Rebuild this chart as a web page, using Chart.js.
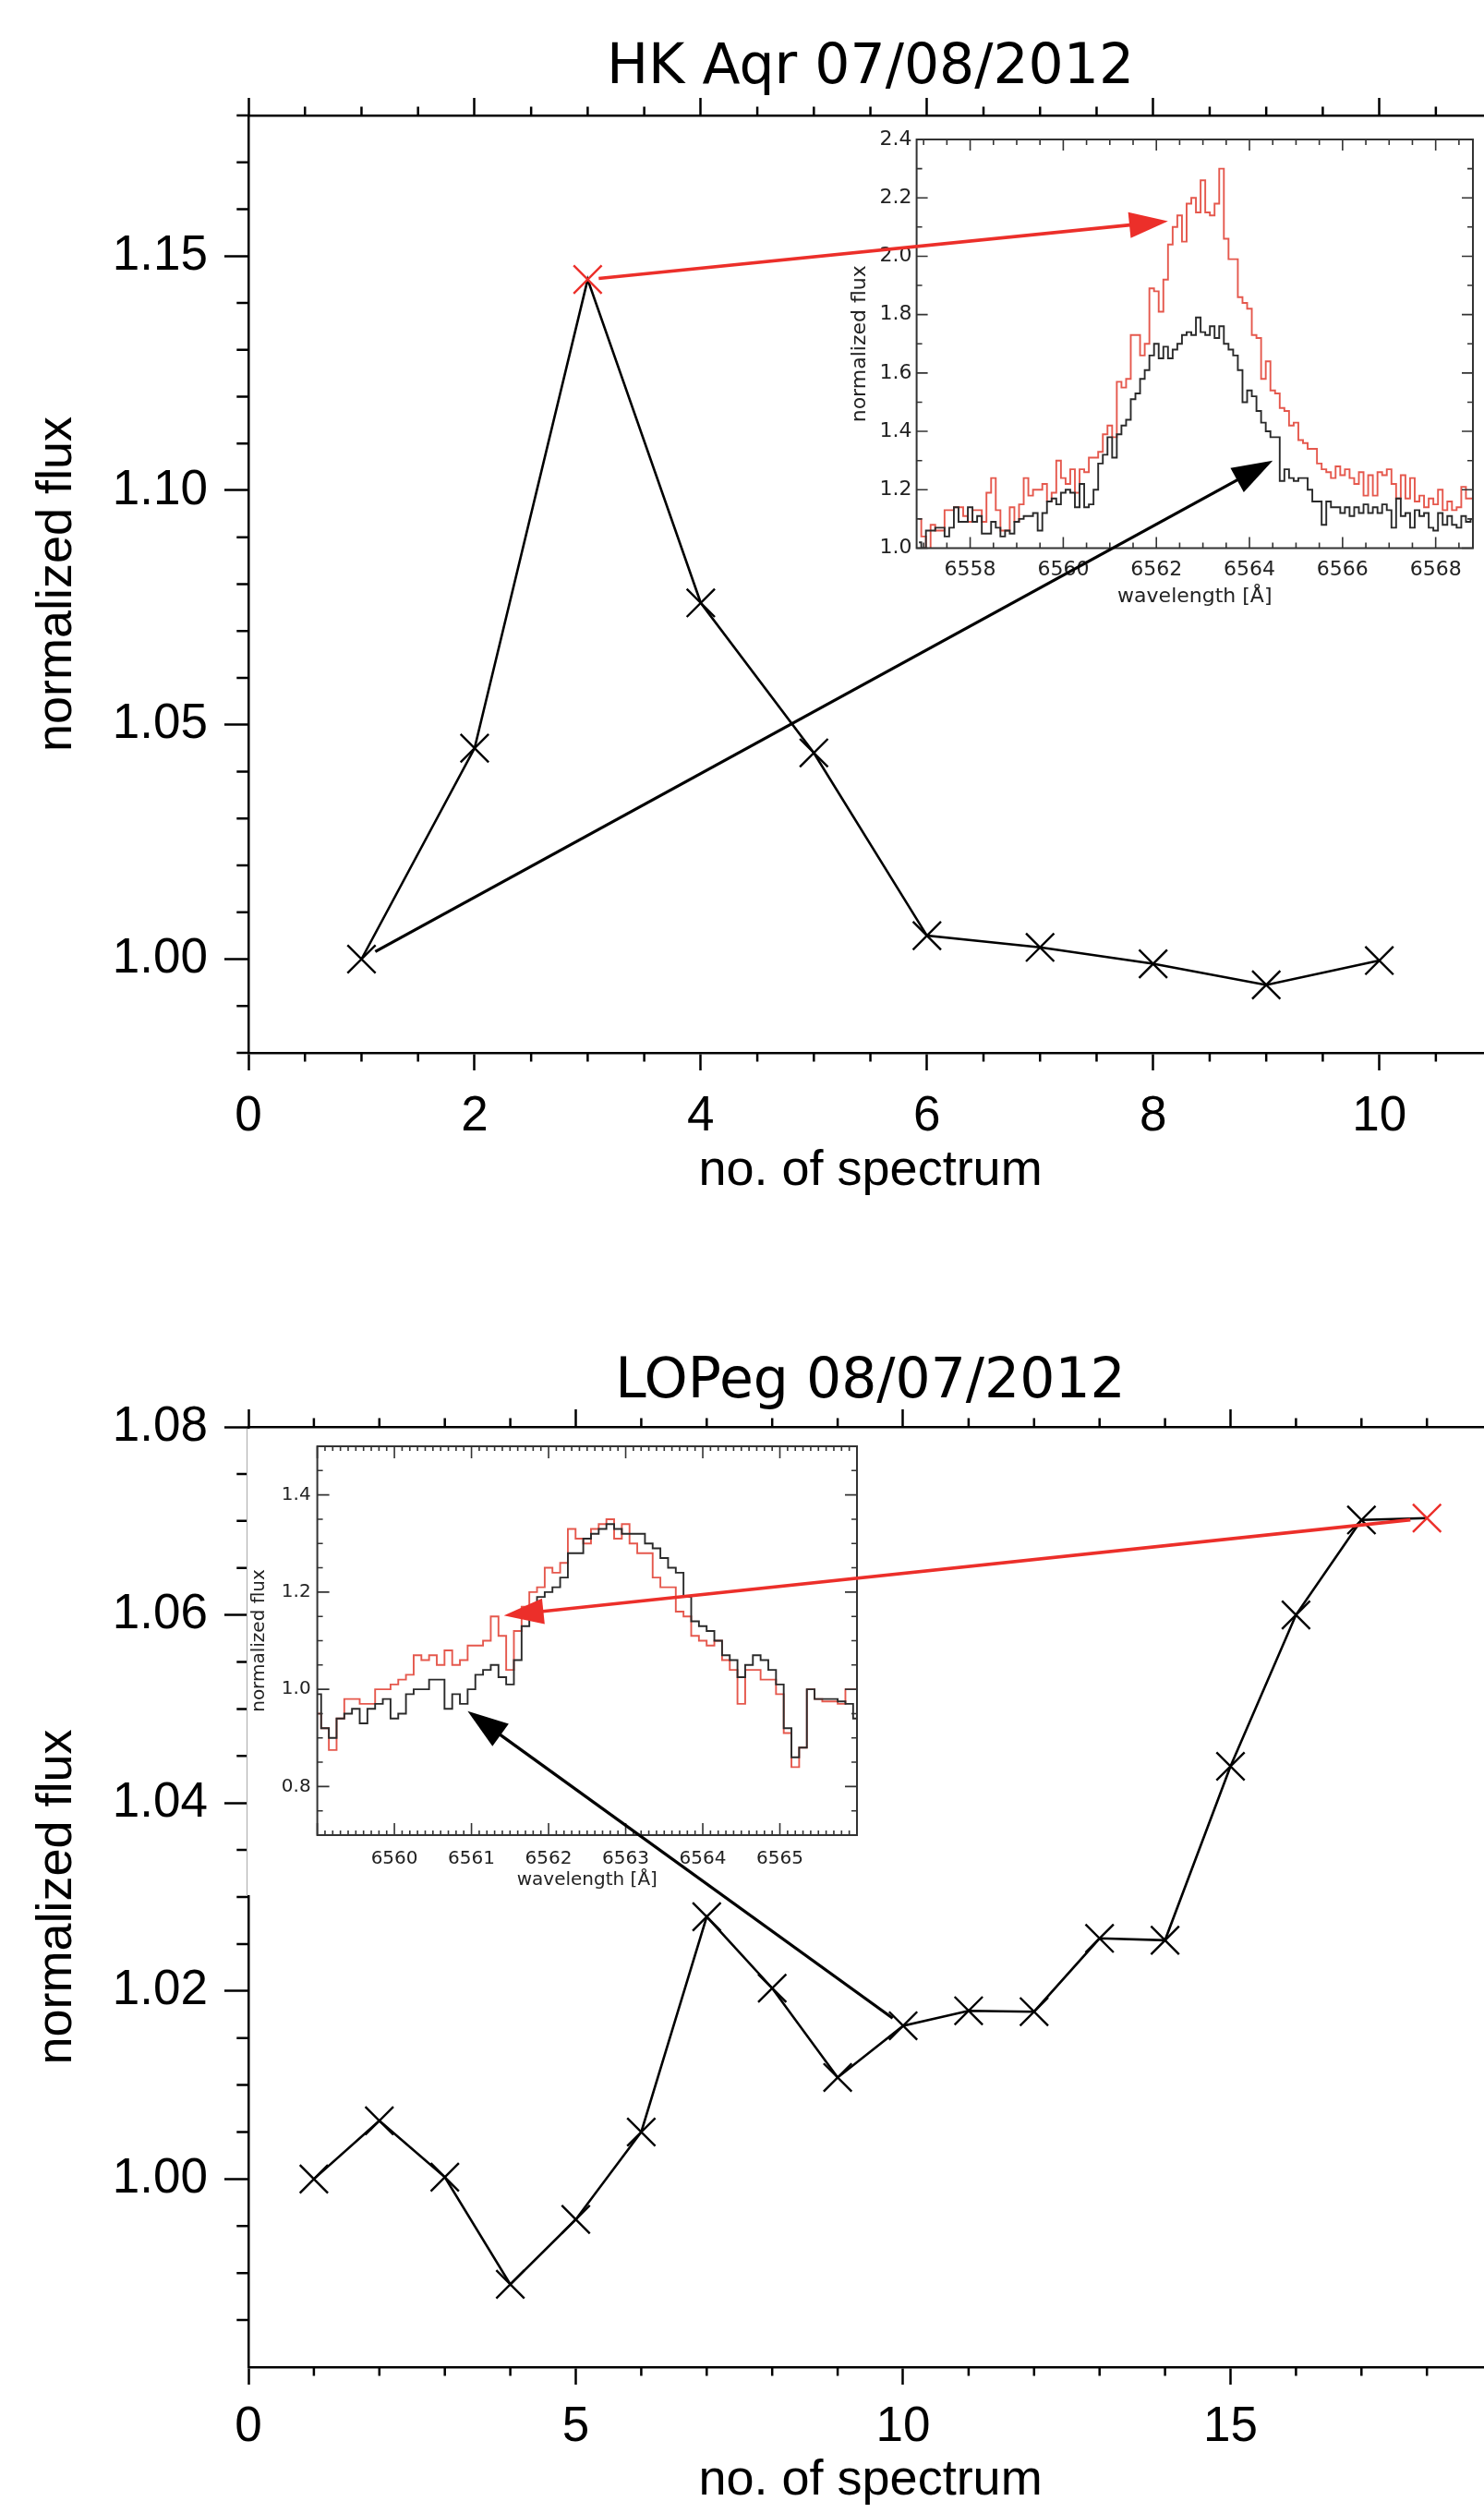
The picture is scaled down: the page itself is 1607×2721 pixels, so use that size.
<!DOCTYPE html>
<html>
<head>
<meta charset="utf-8">
<script src="https://cdn.jsdelivr.net/npm/chart.js@4.4.1/dist/chart.umd.min.js"></script>
<style>
html,body{margin:0;padding:0;background:#fff;width:1607px;height:2721px;overflow:hidden;}
.box{position:absolute;}
canvas{display:block;}
.inset canvas{background:#fff;}
</style>
</head>
<body>
<div class="box" style="left:0;top:0;"><canvas id="mainTop" width="1640" height="1301"></canvas></div>
<div class="box inset" style="left:900px;top:130px;"><canvas id="insetTop" width="707" height="540"></canvas></div>
<div class="box" style="left:0;top:1420px;"><canvas id="mainBot" width="1640" height="1299"></canvas></div>
<div class="box inset" style="left:267px;top:1547px;border-left:1px solid #aaa;"><canvas id="insetBot" width="682" height="505"></canvas></div>
<canvas id="arrows" width="1607" height="2721" style="position:absolute;left:0;top:0;"></canvas>
<script>
// ---------------- DATA ----------------
// HK Aqr 07/08/2012 : normalized H-alpha flux per spectrum
const hkSpecNo = [1, 2, 3, 4, 5, 6, 7, 8, 9, 10];
const hkFlux   = [1.000, 1.045, 1.145, 1.076, 1.044, 1.005, 1.0025, 0.999, 0.9945, 0.9997];
const hkHighlight = 3;   // spectrum shown in red
const hkCompare = 1;     // spectrum shown in black
const hkXTicks = [0, 2, 4, 6, 8, 10];
const hkYTicks = [1.00, 1.05, 1.10, 1.15];

// LO Peg 08/07/2012
const loSpecNo = [1, 2, 3, 4, 5, 6, 7, 8, 9, 10, 11, 12, 13, 14, 15, 16, 17, 18];
const loFlux   = [1.000, 1.0062, 1.0002, 0.9888, 0.9957, 1.005, 1.0279, 1.0203, 1.0108, 1.0163,
                  1.0179, 1.0178, 1.0256, 1.0254, 1.0439, 1.0600, 1.0701, 1.0703];
const loHighlight = 18;
const loCompare = 10;
const loXTicks = [0, 5, 10, 15];
const loYTicks = [1.00, 1.02, 1.04, 1.06, 1.08];

// HK Aqr inset spectra (wavelength in Angstrom)
const hkWave = [
6556.9,6557.0,6557.1,6557.2,6557.3,6557.4,6557.5,6557.6,6557.7,6557.8,
6557.9,6558.0,6558.1,6558.2,6558.3,6558.4,6558.5,6558.6,6558.7,6558.8,
6558.9,6559.0,6559.1,6559.2,6559.3,6559.4,6559.5,6559.6,6559.7,6559.8,
6559.9,6560.0,6560.1,6560.2,6560.3,6560.4,6560.5,6560.6,6560.7,6560.8,
6560.9,6561.0,6561.1,6561.2,6561.3,6561.4,6561.5,6561.6,6561.7,6561.8,
6561.9,6562.0,6562.1,6562.2,6562.3,6562.4,6562.5,6562.6,6562.7,6562.8,
6562.9,6563.0,6563.1,6563.2,6563.3,6563.4,6563.5,6563.6,6563.7,6563.8,
6563.9,6564.0,6564.1,6564.2,6564.3,6564.4,6564.5,6564.6,6564.7,6564.8,
6564.9,6565.0,6565.1,6565.2,6565.3,6565.4,6565.5,6565.6,6565.7,6565.8,
6565.9,6566.0,6566.1,6566.2,6566.3,6566.4,6566.5,6566.6,6566.7,6566.8,
6566.9,6567.0,6567.1,6567.2,6567.3,6567.4,6567.5,6567.6,6567.7,6567.8,
6567.9,6568.0,6568.1,6568.2,6568.3,6568.4,6568.5,6568.6,6568.7,6568.8];
const hkRedSpec = [
1.10,1.04,0.98,1.08,1.06,1.06,1.13,1.13,1.14,1.14,
1.11,1.09,1.13,1.13,1.09,1.19,1.24,1.13,1.06,1.06,
1.14,1.09,1.15,1.24,1.18,1.20,1.20,1.22,1.16,1.19,
1.30,1.24,1.22,1.27,1.19,1.27,1.26,1.31,1.31,1.33,
1.39,1.42,1.38,1.57,1.55,1.58,1.73,1.73,1.66,1.70,
1.89,1.88,1.81,1.92,2.04,2.10,2.14,2.05,2.18,2.20,
2.15,2.26,2.15,2.14,2.18,2.30,2.06,1.99,1.99,1.86,
1.84,1.82,1.73,1.72,1.58,1.64,1.54,1.53,1.48,1.47,
1.42,1.43,1.37,1.36,1.34,1.34,1.29,1.27,1.26,1.24,
1.28,1.25,1.27,1.24,1.22,1.26,1.18,1.25,1.18,1.26,
1.25,1.27,1.22,1.17,1.25,1.17,1.24,1.16,1.18,1.14,
1.17,1.15,1.20,1.13,1.16,1.13,1.14,1.21,1.17,1.17];
const hkBlackSpec = [
1.02,1.00,1.06,1.06,1.07,1.07,1.04,1.07,1.14,1.09,
1.09,1.14,1.09,1.11,1.05,1.05,1.09,1.07,1.04,1.06,
1.05,1.09,1.10,1.11,1.11,1.12,1.06,1.12,1.16,1.17,
1.15,1.19,1.20,1.19,1.14,1.22,1.14,1.15,1.20,1.29,
1.32,1.38,1.31,1.39,1.42,1.44,1.51,1.53,1.58,1.61,
1.66,1.70,1.65,1.69,1.65,1.68,1.70,1.73,1.74,1.73,
1.79,1.74,1.73,1.76,1.72,1.76,1.70,1.68,1.66,1.61,
1.50,1.54,1.52,1.47,1.43,1.40,1.38,1.38,1.23,1.27,
1.24,1.23,1.24,1.24,1.20,1.16,1.16,1.08,1.16,1.14,
1.14,1.12,1.14,1.11,1.14,1.12,1.15,1.12,1.14,1.12,
1.15,1.13,1.07,1.17,1.11,1.12,1.07,1.13,1.11,1.12,
1.07,1.06,1.12,1.08,1.11,1.08,1.07,1.11,1.09,1.10];
const hkInsetXTicks = [6558, 6560, 6562, 6564, 6566, 6568];
const hkInsetYTicks = [1.0, 1.2, 1.4, 1.6, 1.8, 2.0, 2.2, 2.4];

// LO Peg inset spectra
const loWave = [
6559.0,6559.1,6559.2,6559.3,6559.4,6559.5,6559.6,6559.7,6559.8,6559.9,
6560.0,6560.1,6560.2,6560.3,6560.4,6560.5,6560.6,6560.7,6560.8,6560.9,
6561.0,6561.1,6561.2,6561.3,6561.4,6561.5,6561.6,6561.7,6561.8,6561.9,
6562.0,6562.1,6562.2,6562.3,6562.4,6562.5,6562.6,6562.7,6562.8,6562.9,
6563.0,6563.1,6563.2,6563.3,6563.4,6563.5,6563.6,6563.7,6563.8,6563.9,
6564.0,6564.1,6564.2,6564.3,6564.4,6564.5,6564.6,6564.7,6564.8,6564.9,
6565.0,6565.1,6565.2,6565.3,6565.4,6565.5,6565.6,6565.7,6565.8,6565.9,
6566.0];
const loRedSpec = [
0.95,0.92,0.875,0.94,0.98,0.98,0.97,0.97,1.00,1.00,
1.01,1.02,1.03,1.07,1.06,1.07,1.05,1.08,1.05,1.06,
1.09,1.09,1.10,1.15,1.11,1.04,1.12,1.17,1.20,1.21,
1.25,1.24,1.26,1.33,1.31,1.30,1.33,1.34,1.35,1.31,
1.34,1.30,1.28,1.28,1.23,1.21,1.21,1.16,1.15,1.11,
1.10,1.09,1.10,1.06,1.04,0.97,1.04,1.04,1.02,1.02,
0.99,0.91,0.84,0.88,1.00,0.98,0.975,0.975,0.97,1.00,
1.00];
const loBlackSpec = [
0.99,0.92,0.90,0.94,0.95,0.96,0.93,0.96,0.97,0.98,
0.94,0.95,0.99,1.00,1.00,1.02,1.02,0.96,0.99,0.97,
1.00,1.03,1.04,1.05,1.025,1.01,1.06,1.13,1.15,1.19,
1.20,1.21,1.23,1.28,1.28,1.31,1.32,1.33,1.34,1.33,
1.32,1.32,1.32,1.30,1.29,1.27,1.25,1.24,1.19,1.14,
1.13,1.12,1.10,1.07,1.06,1.025,1.05,1.07,1.06,1.04,
1.01,0.92,0.86,0.88,1.00,0.98,0.98,0.98,0.975,0.97,
0.94];
const loInsetXTicks = [6560, 6561, 6562, 6563, 6564, 6565];
const loInsetYTicks = [0.8, 1.0, 1.2, 1.4];

// arrow targets inside the insets: [wavelength, flux]
const hkRedTarget   = [6562.25, 2.12];
const hkBlackTarget = [6564.5, 1.30];
const loRedTarget   = [6561.42, 1.152];
const loBlackTarget = [6560.95, 0.955];

// ---------------- STYLE ----------------
const RED = '#ec2f2a';
const SPEC_RED = '#e5584d';
const SPEC_BLACK = '#2a2a2a';
const TICKFONT = {family: "'Liberation Sans', Arial, sans-serif", size: 53, weight: 'normal'};
const AXFONT = {family: "'Liberation Sans', Arial, sans-serif", size: 54, weight: 'normal'};
const TITLEFONT = {family: "'DejaVu Sans', sans-serif", size: 60, weight: 'normal'};

function isMult(v, step) { const r = v / step; return Math.abs(r - Math.round(r)) < 1e-6; }

const mainTicksPlugin = {
  id: 'mainTicks',
  afterDraw(chart, args, o) {
    const {ctx, chartArea: a} = chart;
    const x = chart.scales.x, y = chart.scales.y;
    ctx.save();
    ctx.strokeStyle = '#000';
    ctx.lineWidth = 2.5;
    ctx.beginPath();
    const nx = Math.round((x.max - x.min) / o.xMinor);
    for (let i = 0; i <= nx; i++) {
      const v = x.min + i * o.xMinor;
      if (isMult(v, o.xMajor)) continue;
      const px = x.getPixelForValue(v);
      ctx.moveTo(px, a.bottom); ctx.lineTo(px, a.bottom + o.xMinorLen);
      ctx.moveTo(px, a.top); ctx.lineTo(px, a.top - o.xMinorLen);
    }
    const ny = Math.round((y.max - y.min) / o.yMinor);
    for (let i = 0; i <= ny; i++) {
      const v = y.min + i * o.yMinor;
      if (isMult(v, o.yMajor)) continue;
      const py = y.getPixelForValue(v);
      ctx.moveTo(a.left, py); ctx.lineTo(a.left - o.yMinorLen, py);
      ctx.moveTo(a.right, py); ctx.lineTo(a.right + o.yMinorLen, py);
    }
    ctx.moveTo(a.right, a.top); ctx.lineTo(a.right, a.bottom);
    ctx.stroke();
    ctx.restore();
  }
};

const insetFramePlugin = {
  id: 'insetFrame',
  afterDatasetsDraw(chart, args, o) {
    const {ctx, chartArea: a} = chart;
    const x = chart.scales.x, y = chart.scales.y;
    ctx.save();
    ctx.strokeStyle = o.color;
    ctx.lineWidth = o.tickWidth;
    ctx.beginPath();
    const x0 = Math.ceil(x.min / o.xMinor - 1e-6) * o.xMinor;
    const nx = Math.floor((x.max - x0) / o.xMinor + 1e-6);
    for (let i = 0; i <= nx; i++) {
      const v = x0 + i * o.xMinor;
      const len = isMult(v, o.xMajor) ? o.majorLen : o.xMinorLen;
      const px = x.getPixelForValue(v);
      ctx.moveTo(px, a.bottom); ctx.lineTo(px, a.bottom - len);
      ctx.moveTo(px, a.top); ctx.lineTo(px, a.top + len);
    }
    const y0 = Math.ceil(y.min / o.yMinor - 1e-6) * o.yMinor;
    const ny = Math.floor((y.max - y0) / o.yMinor + 1e-6);
    for (let i = 0; i <= ny; i++) {
      const v = y0 + i * o.yMinor;
      const len = isMult(v, o.yMajor) ? o.majorLen : o.yMinorLen;
      const py = y.getPixelForValue(v);
      ctx.moveTo(a.left, py); ctx.lineTo(a.left + len, py);
      ctx.moveTo(a.right, py); ctx.lineTo(a.right - len, py);
    }
    ctx.stroke();
    ctx.lineWidth = o.frameWidth;
    ctx.strokeRect(a.left, a.top, a.right - a.left, a.bottom - a.top);
    ctx.restore();
  }
};

function mainChart(id, c) {
  const setTicks = arr => s => { s.ticks = arr.map(v => ({value: v})); };
  return new Chart(document.getElementById(id), {
    type: 'line',
    data: {datasets: [{
      data: c.specNo.map((n, i) => ({x: n, y: c.flux[i]})),
      borderColor: '#000', borderWidth: 2.6, tension: 0, fill: false,
      pointStyle: 'crossRot', pointRadius: 21.5, pointBorderWidth: 2.4,
      pointBorderColor: ctx => (c.specNo[ctx.dataIndex] === c.highlight ? RED : '#000'),
      pointBackgroundColor: 'rgba(0,0,0,0)'
    }]},
    options: {
      responsive: false, animation: false, devicePixelRatio: 1, events: [],
      layout: {padding: {left: 0, right: c.padRight, top: 0, bottom: 0}},
      plugins: {
        legend: {display: false}, tooltip: {enabled: false},
        mainTicks: {xMinor: c.xMinor, xMajor: c.xMajor, yMinor: c.yMinor, yMajor: c.yMajor, xMinorLen: 9.5, yMinorLen: 12.7}
      },
      scales: {
        x: {type: 'linear', position: 'bottom', min: c.xMin, max: c.xMax,
            afterBuildTicks: setTicks(c.xTicks), afterFit: s => { s.height = c.xAxisH; },
            ticks: {color: '#000', font: TICKFONT, padding: c.xLabelPad, maxRotation: 0, autoSkip: false, callback: v => String(v)},
            grid: {display: true, drawOnChartArea: false, drawTicks: true, tickLength: 19, tickWidth: 2.5, tickColor: '#000'},
            border: {display: true, color: '#000', width: 2.5},
            title: {display: true, text: 'no. of spectrum', color: '#000', font: AXFONT, padding: {top: 0, bottom: 0}}},
        x2: {type: 'linear', position: 'top', min: c.xMin, max: c.xMax,
            afterBuildTicks: setTicks(c.xTicks), afterFit: s => { s.height = 125; },
            ticks: {display: false},
            grid: {display: true, drawOnChartArea: false, drawTicks: true, tickLength: 19, tickWidth: 2.5, tickColor: '#000'},
            border: {display: true, color: '#000', width: 2.5},
            title: {display: true, text: c.title, color: '#000', font: TITLEFONT, padding: {top: c.titlePad, bottom: 0}}},
        y: {type: 'linear', position: 'left', min: c.yMin, max: c.yMax,
            afterBuildTicks: setTicks(c.yTicks), afterFit: s => { s.width = 269; },
            ticks: {color: '#000', font: TICKFONT, padding: 18, callback: v => v.toFixed(2)},
            grid: {display: true, drawOnChartArea: false, drawTicks: true, tickLength: 26, tickWidth: 2.5, tickColor: '#000'},
            border: {display: true, color: '#000', width: 2.5},
            title: {display: true, text: 'normalized flux', color: '#000', font: AXFONT, padding: {top: 30, bottom: 0}}}
      }
    },
    plugins: [mainTicksPlugin]
  });
}

function insetChart(id, c) {
  const setTicks = arr => s => { s.ticks = arr.map(v => ({value: v})); };
  const tf = {family: "'DejaVu Sans', sans-serif", size: c.font, weight: 'normal'};
  return new Chart(document.getElementById(id), {
    type: 'line',
    data: {datasets: [
      {data: c.wave.map((w, i) => ({x: w, y: c.black[i]})), borderColor: SPEC_BLACK, borderWidth: 1.9,
       stepped: 'middle', pointRadius: 0, fill: false},
      {data: c.wave.map((w, i) => ({x: w, y: c.red[i]})), borderColor: SPEC_RED, borderWidth: 1.9,
       stepped: 'middle', pointRadius: 0, fill: false}
    ]},
    options: {
      responsive: false, animation: false, devicePixelRatio: 1, events: [],
      layout: {padding: {left: 0, right: c.padRight, top: c.padTop, bottom: 0}},
      plugins: {
        legend: {display: false}, tooltip: {enabled: false},
        insetFrame: {color: '#333', tickWidth: 1.6, frameWidth: 2, majorLen: c.majorLen,
                     xMinor: c.xMinor, xMajor: c.xMajor, yMinor: c.yMinor, yMajor: c.yMajor,
                     xMinorLen: c.xMinorLen, yMinorLen: c.yMinorLen}
      },
      scales: {
        x: {type: 'linear', min: c.xMin, max: c.xMax,
            afterBuildTicks: setTicks(c.xTicks), afterFit: s => { s.height = c.xAxisH; },
            ticks: {color: '#222', font: tf, padding: c.xLabelPad, maxRotation: 0, autoSkip: false, callback: v => String(v)},
            grid: {display: false, drawTicks: false}, border: {display: false},
            title: {display: true, text: 'wavelength [Å]', color: '#222', font: tf, padding: {top: 0, bottom: c.xTitlePad}}},
        y: {type: 'linear', min: c.yMin, max: c.yMax,
            afterBuildTicks: setTicks(c.yTicks), afterFit: s => { s.width = c.yAxisW; },
            ticks: {color: '#222', font: tf, padding: c.yLabelPad, callback: v => v.toFixed(1)},
            grid: {display: false, drawTicks: false}, border: {display: false},
            title: {display: true, text: 'normalized flux', color: '#222', font: tf, padding: {top: c.yTitlePad, bottom: 0}}}
      }
    },
    plugins: [insetFramePlugin]
  });
}

const chartTop = mainChart('mainTop', {
  specNo: hkSpecNo, flux: hkFlux, highlight: hkHighlight, title: 'HK Aqr 07/08/2012',
  xMin: 0, xMax: 11, yMin: 0.98, yMax: 1.18, xTicks: hkXTicks, yTicks: hkYTicks,
  xMinor: 0.5, xMajor: 2, yMinor: 0.01, yMajor: 0.05,
  padRight: 23.5, xAxisH: 161, xLabelPad: 19, titlePad: 38
});
const insetTop = insetChart('insetTop', {
  wave: hkWave, red: hkRedSpec, black: hkBlackSpec, font: 22,
  xMin: 6556.85, xMax: 6568.8, yMin: 1.0, yMax: 2.4, xTicks: hkInsetXTicks, yTicks: hkInsetYTicks,
  xMinor: 0.5, xMajor: 2, yMinor: 0.1, yMajor: 0.2, majorLen: 12, xMinorLen: 6, yMinorLen: 6,
  padRight: 12, padTop: 21, xAxisH: 76.5, yAxisW: 92.6, xLabelPad: 11, xTitlePad: 11, yLabelPad: 5, yTitlePad: 18
});
const chartBot = mainChart('mainBot', {
  specNo: loSpecNo, flux: loFlux, highlight: loHighlight, title: 'LOPeg 08/07/2012',
  xMin: 0, xMax: 19, yMin: 0.98, yMax: 1.08, xTicks: loXTicks, yTicks: loYTicks,
  xMinor: 1, xMajor: 5, yMinor: 0.005, yMajor: 0.02,
  padRight: 23.5, xAxisH: 156, xLabelPad: 15, titlePad: 41
});
const insetBot = insetChart('insetBot', {
  wave: loWave, red: loRedSpec, black: loBlackSpec, font: 20,
  xMin: 6559.0, xMax: 6566.0, yMin: 0.7, yMax: 1.5, xTicks: loInsetXTicks, yTicks: loInsetYTicks,
  xMinor: 0.1, xMajor: 1, yMinor: 0.05, yMajor: 0.2, majorLen: 13, xMinorLen: 5, yMinorLen: 6,
  padRight: 22, padTop: 6, xAxisH: 65, yAxisW: 75.6, xLabelPad: 14, xTitlePad: 4, yLabelPad: 7, yTitlePad: 1
});

// ---------------- ARROWS (data -> inset data, through the scales) ----------------
function toPage(chart, xv, yv) {
  const r = chart.canvas.getBoundingClientRect();
  return {x: r.left + chart.scales.x.getPixelForValue(xv), y: r.top + chart.scales.y.getPixelForValue(yv)};
}
function arrow(ctx, p0, p1, color, lw, headLen, headHalf, gap) {
  const dx = p1.x - p0.x, dy = p1.y - p0.y, L = Math.hypot(dx, dy), ux = dx / L, uy = dy / L;
  const sx = p0.x + ux * gap, sy = p0.y + uy * gap;
  const bx = p1.x - ux * headLen, by = p1.y - uy * headLen;
  ctx.strokeStyle = color; ctx.lineWidth = lw; ctx.lineCap = 'butt';
  ctx.beginPath(); ctx.moveTo(sx, sy); ctx.lineTo(bx + ux * 3, by + uy * 3); ctx.stroke();
  ctx.fillStyle = color;
  ctx.beginPath();
  ctx.moveTo(p1.x, p1.y);
  ctx.lineTo(bx - uy * headHalf, by + ux * headHalf);
  ctx.lineTo(bx + uy * headHalf, by - ux * headHalf);
  ctx.closePath(); ctx.fill();
}
const actx = document.getElementById('arrows').getContext('2d');
const hkIdxHi = hkSpecNo.indexOf(hkHighlight), hkIdxCmp = hkSpecNo.indexOf(hkCompare);
const loIdxHi = loSpecNo.indexOf(loHighlight), loIdxCmp = loSpecNo.indexOf(loCompare);
arrow(actx, toPage(chartTop, hkHighlight, hkFlux[hkIdxHi]), toPage(insetTop, hkRedTarget[0], hkRedTarget[1]), RED, 3.6, 42, 14, 12);
arrow(actx, toPage(chartTop, hkCompare, hkFlux[hkIdxCmp]), toPage(insetTop, hkBlackTarget[0], hkBlackTarget[1]), '#000', 3.3, 44, 15, 17);
arrow(actx, toPage(chartBot, loHighlight, loFlux[loIdxHi]), toPage(insetBot, loRedTarget[0], loRedTarget[1]), RED, 3.6, 43, 14, 18);
arrow(actx, toPage(chartBot, loCompare, loFlux[loIdxCmp]), toPage(insetBot, loBlackTarget[0], loBlackTarget[1]), '#000', 3.3, 44, 15, 14);
</script>
</body>
</html>
